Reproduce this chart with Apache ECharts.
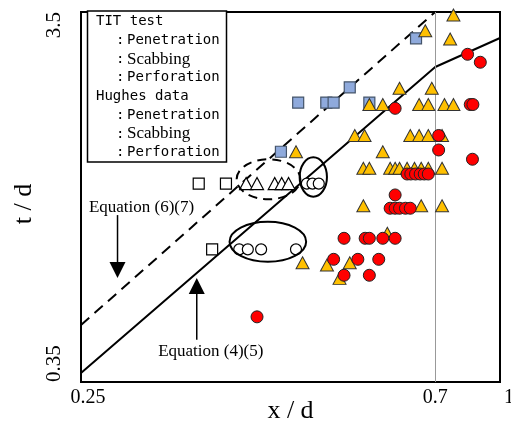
<!DOCTYPE html>
<html><head><meta charset="utf-8">
<script src="https://cdn.jsdelivr.net/npm/echarts@6/dist/echarts.min.js"></script>
<style>html,body{margin:0;padding:0;background:#fff}#c{width:511px;height:425px}</style>
</head><body><div id="c"></div>
<script>
// ---- tick labels ----
const xTickValues = [0.25, 0.7, 0.845];
const xTickLabels = ['0.25', '0.7', '1'];
const yTickValues = [0.35, 3.5];
const yTickLabels = ['0.35', '3.5'];
const xMin = 0.25, xMax = 0.845, yMin = 0.35, yMax = 3.5;

// ---- TIT test ----
const titPenetration = [[0.662,2.971],[0.546,2.190],[0.470,1.992],[0.510,1.992],[0.521,1.992],[0.578,1.992],[0.447,1.467]];
const titScabbing = [
  [0.738,3.435],[0.680,3.115],[0.731,2.958],[0.631,2.177],[0.693,2.177],
  [0.578,1.968],[0.601,1.968],[0.668,1.968],[0.686,1.968],[0.719,1.968],[0.738,1.968],
  [0.467,1.467],[0.554,1.623],[0.570,1.623],[0.651,1.623],[0.668,1.623],[0.686,1.623],[0.714,1.623],
  [0.601,1.467],
  [0.568,1.323],[0.578,1.323],[0.614,1.323],[0.623,1.323],[0.631,1.323],[0.645,1.323],[0.659,1.323],[0.672,1.323],[0.686,1.323],[0.714,1.323],
  [0.568,1.048],[0.672,1.048],[0.714,1.048],
  [0.609,0.883],[0.476,0.735],[0.511,0.725],[0.546,0.735],[0.530,0.667]
];
const titPerforation = [
  [0.769,2.690],[0.798,2.560],[0.623,1.922],[0.775,1.968],[0.781,1.968],
  [0.707,1.623],[0.707,1.483],[0.780,1.400],
  [0.645,1.277],[0.652,1.277],[0.661,1.277],[0.670,1.277],[0.678,1.277],[0.686,1.277],
  [0.623,1.121],
  [0.614,1.032],[0.623,1.032],[0.631,1.032],[0.642,1.032],[0.651,1.032],
  [0.537,0.856],[0.571,0.856],[0.578,0.856],[0.601,0.856],[0.623,0.856],
  [0.521,0.751],[0.559,0.751],[0.594,0.751],
  [0.537,0.680],[0.578,0.680],
  [0.417,0.525]
];
// ---- Hughes data ----
const hughesPenetration = [[0.352,1.203],[0.381,1.203],[0.366,0.799]];
const hughesScabbing = [[0.404,1.203],[0.417,1.203],[0.439,1.203],[0.448,1.203],[0.457,1.203]];
const hughesPerforation = [[0.482,1.203],[0.490,1.203],[0.499,1.203],[0.396,0.799],[0.406,0.799],[0.422,0.799],[0.467,0.799]];

// ---- equations ----
const eq45 = [[0.25,0.370],[0.7,2.485],[0.845,2.977]];
const eq67 = [[0.25,0.499],[0.7,3.5]];
const limitX = 0.7;

// ---- annotations (data coords) ----
const ellipseBoxes = [
  [[0.393,1.400],[0.473,1.091]],
  [[0.472,1.417],[0.511,1.109]],
  [[0.385,0.949],[0.481,0.740]]
];
const arrowFrom = [[0.278,0.989],[0.350,0.455]];
const arrowTo   = [[0.278,0.669],[0.350,0.669]];
const arrowTexts = ['Equation (6)(7)', 'Equation (4)(5)'];

const legendGroups = [
  { title: 'TIT test', items: ['Penetration','Scabbing','Perforation'] },
  { title: 'Hughes data', items: ['Penetration','Scabbing','Perforation'] }
];

const SERIF = '"Liberation Serif","DejaVu Serif",serif';
const MONO = '"DejaVu Sans Mono","Liberation Mono",monospace';

const chart = echarts.init(document.getElementById('c'), null, {renderer:'canvas'});

function xFmt(v){
  for (let i=0;i<xTickValues.length;i++){
    if (Math.abs(v-xTickValues[i])<1e-6) return '{' + (i===0 ? 'a' : i===xTickValues.length-1 ? 'c' : 'b') + '|' + xTickLabels[i] + '}';
  }
  return '';
}
function yFmt(v){
  for (let i=0;i<yTickValues.length;i++){
    if (Math.abs(v-yTickValues[i])<1e-6) return yTickLabels[i];
  }
  return '';
}
const xRichBase = { fontFamily:SERIF, fontSize:20, color:'#000' };

function scatter(name, data, symbol, size, color, border, bw){
  return { name, type:'scatter', data, symbol, symbolSize:size, z:5,
    itemStyle:{ color, borderColor:border, borderWidth:bw, opacity:1 } };
}

chart.setOption({
  animation:false,
  backgroundColor:'#fff',
  grid:{ left:81, right:11, top:12, bottom:43, show:true, borderColor:'#000', borderWidth:2,
    containLabel:false, outerBoundsMode:'none' },
  xAxis:{ type:'log', logBase:10, min:xMin, max:xMax,
    name:'x / d', nameLocation:'middle', nameGap:16, nameMoveOverlap:false,
    nameTextStyle:{ fontFamily:SERIF, fontSize:26, color:'#000' },
    axisLine:{ show:true, lineStyle:{ color:'#000', width:2 } },
    axisTick:{ show:false }, splitLine:{ show:false }, minorSplitLine:{show:false},
    axisLabel:{ customValues:xTickValues, formatter:xFmt, showMinLabel:true, showMaxLabel:true,
      fontFamily:SERIF, fontSize:20, color:'#000', margin:6, hideOverlap:false,
      rich:{
        a: Object.assign({ padding:[0,0,0,14] }, xRichBase),
        b: Object.assign({}, xRichBase),
        c: Object.assign({ padding:[0,0,0,18] }, xRichBase)
      } }
  },
  yAxis:{ type:'log', logBase:10, min:yMin, max:yMax,
    name:'t / d', nameLocation:'middle', nameGap:44, nameMoveOverlap:false,
    nameTextStyle:{ fontFamily:SERIF, fontSize:26, color:'#000', padding:[0,14,0,0] },
    axisLine:{ show:true, lineStyle:{ color:'#000', width:2 } },
    axisTick:{ show:false }, splitLine:{ show:false },
    axisLabel:{ customValues:yTickValues, formatter:yFmt, showMinLabel:true, showMaxLabel:true,
      rotate:90, fontFamily:SERIF, fontSize:21, color:'#000', margin:16,
      alignMinLabel:'left', alignMaxLabel:'right', hideOverlap:false }
  },
  series:[
    { name:'eq45', type:'line', data:eq45, symbol:'none', z:3, silent:true,
      lineStyle:{ color:'#000', width:2 },
      markLine:{ silent:true, symbol:'none', label:{show:false},
        lineStyle:{ color:'#999', width:1, type:'solid' }, data:[{ xAxis:limitX }] } },
    { name:'eq67', type:'line', data:eq67, symbol:'none', z:3, silent:true,
      lineStyle:{ color:'#000', width:2, type:[11,7] } },
    scatter('Hughes Penetration', hughesPenetration, 'rect', 11, '#fff', '#000', 1.2),
    scatter('Hughes Scabbing', hughesScabbing, 'triangle', [13,12], '#fff', '#000', 1.2),
    scatter('Hughes Perforation', hughesPerforation, 'circle', 11, '#fff', '#000', 1.2),
    scatter('TIT Penetration', titPenetration, 'rect', 11, '#8FAADC', '#44546A', 1.2),
    scatter('TIT Scabbing', titScabbing, 'triangle', [13,12], '#FFC000', '#333', 1),
    scatter('TIT Perforation', titPerforation, 'circle', 12, '#FF0000', '#222', 1)
  ]
});

// ---- graphics from data coords ----
const g = [];
ellipseBoxes.forEach(function(b, i){
  const p1 = chart.convertToPixel({gridIndex:0}, b[0]);
  const p2 = chart.convertToPixel({gridIndex:0}, b[1]);
  g.push({ type:'ellipse', z:10, silent:true,
    shape:{ cx:(p1[0]+p2[0])/2, cy:(p1[1]+p2[1])/2, rx:Math.abs(p2[0]-p1[0])/2, ry:Math.abs(p2[1]-p1[1])/2 },
    style:{ fill:null, stroke:'#000', lineWidth:2, lineDash: i===0 ? [9,6] : null } });
});
arrowFrom.forEach(function(a, i){
  const s = chart.convertToPixel({gridIndex:0}, a);
  const e = chart.convertToPixel({gridIndex:0}, arrowTo[i]);
  const dir = e[1] > s[1] ? 1 : -1;
  g.push({ type:'line', z:10, silent:true, shape:{ x1:s[0], y1:s[1], x2:e[0], y2:e[1]-dir*12 }, style:{ stroke:'#000', lineWidth:1.5 } });
  g.push({ type:'polygon', z:10, silent:true, shape:{ points:[[e[0],e[1]],[e[0]-8,e[1]-dir*16],[e[0]+8,e[1]-dir*16]] }, style:{ fill:'#000' } });
  g.push({ type:'text', z:10, silent:true,
    x: s[0] + (i===0 ? 24 : 14), y: s[1] + (i===0 ? -8 : 12),
    style:{ text:arrowTexts[i], font:'17px ' + SERIF, fill:'#000', align:'center', verticalAlign:'middle' } });
});
// legend box
g.push({ type:'rect', z:20, silent:true, shape:{ x:87.5, y:11, width:139, height:151 },
  style:{ fill:'#fff', stroke:'#000', lineWidth:1.5 } });
let row = 0;
legendGroups.forEach(function(grp){
  g.push({ type:'text', z:21, silent:true, x:96, y:21.7 + row*18.7,
    style:{ text:grp.title, font:'14px ' + MONO, fill:'#000', verticalAlign:'middle' } });
  row++;
  grp.items.forEach(function(it){
    const yy = 21.7 + row*18.7;
    g.push({ type:'text', z:21, silent:true, x:116, y:yy,
      style:{ text:':', font:'14px ' + MONO, fill:'#000', verticalAlign:'middle' } });
    g.push({ type:'text', z:21, silent:true, x:127, y:yy,
      style:{ text:it, font: (it === 'Scabbing' ? '17px ' + SERIF : '14px ' + MONO), fill:'#000', verticalAlign:'middle' } });
    row++;
  });
});
chart.setOption({ graphic: g });
</script>
</body></html>
